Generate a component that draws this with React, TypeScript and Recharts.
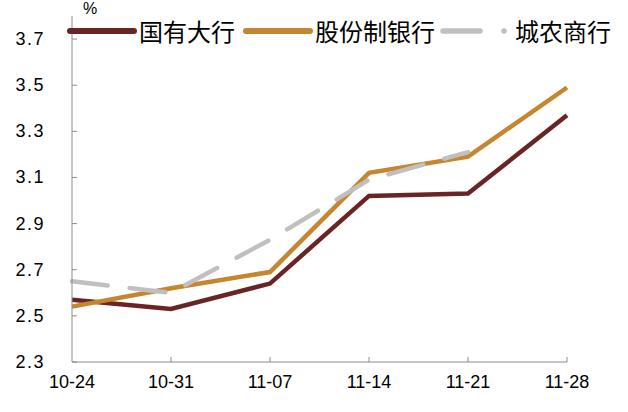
import React from 'react';
import { LineChart, Line, XAxis, YAxis } from 'recharts';

const dates = ['10-24', '10-31', '11-07', '11-14', '11-21', '11-28'];
const bigBanks = [2.57, 2.53, 2.64, 3.02, 3.03, 3.37];
const jointStock = [2.54, 2.62, 2.69, 3.12, 3.19, 3.49];
const cityRural = [2.65, 2.6, 2.83, 3.09, 3.21, null];
const yTicks = [2.3, 2.5, 2.7, 2.9, 3.1, 3.3, 3.5, 3.7];

const data = dates.map((d, i) => ({
  date: d,
  big: bigBanks[i],
  joint: jointStock[i],
  city: cityRural[i],
}));

const FONT = 'Arial, "Liberation Sans", "Noto Sans CJK SC", sans-serif';
const Y_MARGIN = 27;

const YTick = (props: any) => {
  const { x, y, payload } = props;
  const ax = x + Y_MARGIN;
  return (
    <g>
      <line x1={ax} x2={ax + 5} y1={y} y2={y} stroke="#8c8c8c" strokeWidth={1} />
      <text x={x} y={y} dy={6} textAnchor="end" fontSize={18} fill="#000" fontFamily={FONT} letterSpacing={1.5}>
        {payload.value.toFixed(1)}
      </text>
    </g>
  );
};

const XTick = (props: any) => {
  const { x, y, payload, index } = props;
  return (
    <g>
      {index > 0 && <line x1={x} x2={x} y1={362} y2={357} stroke="#8c8c8c" strokeWidth={1} />}
      <text x={x} y={y} dy={16} textAnchor="middle" fontSize={18} fill="#000" fontFamily={FONT}>
        {payload.value}
      </text>
    </g>
  );
};

const legendItems = [
  { name: '国有大行', color: '#6b2424', dash: false, gap: 8 },
  { name: '股份制银行', color: '#c6862f', dash: false, gap: 5 },
  { name: '城农商行', color: '#c0c0c0', dash: true, gap: 0 },
];

const LegendBox = () => (
  <div
    style={{
      position: 'absolute',
      left: 67,
      top: 16,
      display: 'flex',
      alignItems: 'center',
      fontFamily: '"Noto Sans CJK SC", sans-serif',
      fontSize: 24,
      lineHeight: '30px',
      color: '#000',
    }}
  >
    {legendItems.map((it) => (
      <div key={it.name} style={{ display: 'flex', alignItems: 'center', marginRight: it.gap }}>
        <svg width={it.dash ? 71 : 70} height={10} style={{ marginRight: it.dash ? 4 : 2 }}>
          {it.dash ? (
            <>
              <line x1={3} x2={40} y1={5} y2={5} stroke={it.color} strokeWidth={5.5} strokeLinecap="round" />
              <circle cx={64} cy={5} r={2.8} fill={it.color} />
            </>
          ) : (
            <line x1={3} x2={67} y1={5} y2={5} stroke={it.color} strokeWidth={6} strokeLinecap="round" />
          )}
        </svg>
        <span>{it.name}</span>
      </div>
    ))}
  </div>
);

export default function App() {
  return (
    <div style={{ position: 'absolute', left: 0, top: 0, width: 628, height: 412, background: '#fff' }}>
      <LineChart width={628} height={412} data={data} margin={{ top: 16, right: 61, bottom: 0, left: 0 }}>
        <XAxis
          dataKey="date"
          height={50}
          axisLine={{ stroke: '#8c8c8c' }}
          tickLine={false}
          tick={<XTick />}
          interval={0}
          tickMargin={4}
        />
        <YAxis
          width={72}
          domain={[2.3, 3.8]}
          ticks={yTicks}
          axisLine={{ stroke: '#8c8c8c' }}
          tickLine={false}
          tickSize={0}
          tickMargin={Y_MARGIN}
          tick={<YTick />}
          interval={0}
        />
        <Line dataKey="big" stroke="#6b2424" strokeWidth={4.5} dot={false} isAnimationActive={false} strokeLinejoin="miter" />
        <Line dataKey="joint" stroke="#c6862f" strokeWidth={4.5} dot={false} isAnimationActive={false} strokeLinejoin="miter" />
        <Line
          dataKey="city"
          stroke="#c0c0c0"
          strokeWidth={4.5}
          strokeDasharray="36 22"
          strokeLinecap="round"
          dot={false}
          isAnimationActive={false}
        />
      </LineChart>
      <LegendBox />
      <div style={{ position: 'absolute', left: 83, top: 0, fontFamily: FONT, fontSize: 16, color: '#000' }}>%</div>
    </div>
  );
}
